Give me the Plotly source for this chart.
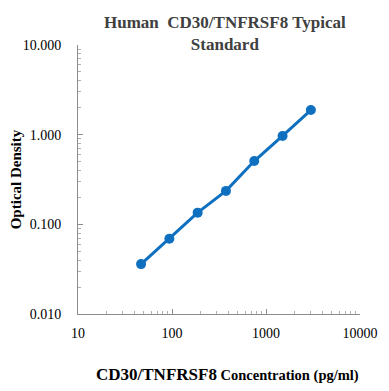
import plotly.graph_objects as go

concentration = [46.88, 93.75, 187.5, 375, 750, 1500, 3000]
optical_density = [0.036, 0.069, 0.135, 0.236, 0.508, 0.967, 1.88]

x_ticks = [10, 100, 1000, 10000]
x_tick_labels = ["10", "100", "1000", "10000"]
y_ticks = [0.01, 0.1, 1, 10]
y_tick_labels = ["0.010", "0.100", "1.000", "10.000"]

fig = go.Figure()
fig.add_trace(go.Scatter(
    x=concentration, y=optical_density, mode="lines+markers",
    line=dict(color="#1070C0", width=3),
    marker=dict(color="#1070C0", size=10),
))

font = "Liberation Serif, Times New Roman, serif"
fig.update_layout(
    width=389, height=391,
    margin=dict(l=70, r=37, t=37, b=85, autoexpand=False),
    paper_bgcolor="white", plot_bgcolor="white",
    showlegend=False,
    font=dict(family=font, color="black", size=13),
)
fig.add_annotation(
    text="<b>Human  CD30/TNFRSF8 Typical<br>Standard</b>",
    xref="paper", yref="paper", x=(225 - 78) / 282, y=1 + 34 / 269,
    xanchor="center", yanchor="top", showarrow=False, align="center",
    font=dict(family=font, size=17, color="#404040"),
)
fig.add_annotation(
    text="<b><span style='font-size:17px'>CD30/TNFRSF8</span> Concentration (pg/ml)</b>",
    xref="paper", yref="paper", x=(227 - 78) / 282, y=-60 / 269,
    xanchor="center", yanchor="middle", showarrow=False,
    font=dict(family=font, size=14.5, color="black"),
)
fig.update_xaxes(
    type="log", range=[1, 4], automargin=False,
    tickvals=x_ticks, ticktext=x_tick_labels,
    showline=True, linecolor="#8c8c8c", linewidth=1,
    ticks="inside", ticklen=5, tickcolor="#8c8c8c",
    minor=dict(ticks="inside", ticklen=3, tickcolor="#b0b0b0", showgrid=False, dtick="D1"),
    showgrid=False, zeroline=False,
    ticklabelstandoff=6,
    tickfont=dict(size=14, color="black"),
)
fig.update_yaxes(
    type="log", range=[-2, 1], automargin=False,
    tickvals=y_ticks, ticktext=y_tick_labels,
    showline=True, linecolor="#8c8c8c", linewidth=1,
    ticks="inside", ticklen=5, tickcolor="#8c8c8c",
    minor=dict(ticks="inside", ticklen=3, tickcolor="#b0b0b0", showgrid=False, dtick="D1"),
    showgrid=False, zeroline=False,
    ticklabelstandoff=13,
    tickfont=dict(size=14, color="black"),
    title=dict(
        text="<b>Optical Density</b>",
        font=dict(size=15, color="black"), standoff=2,
    ),
)

fig.write_html("out.html")
